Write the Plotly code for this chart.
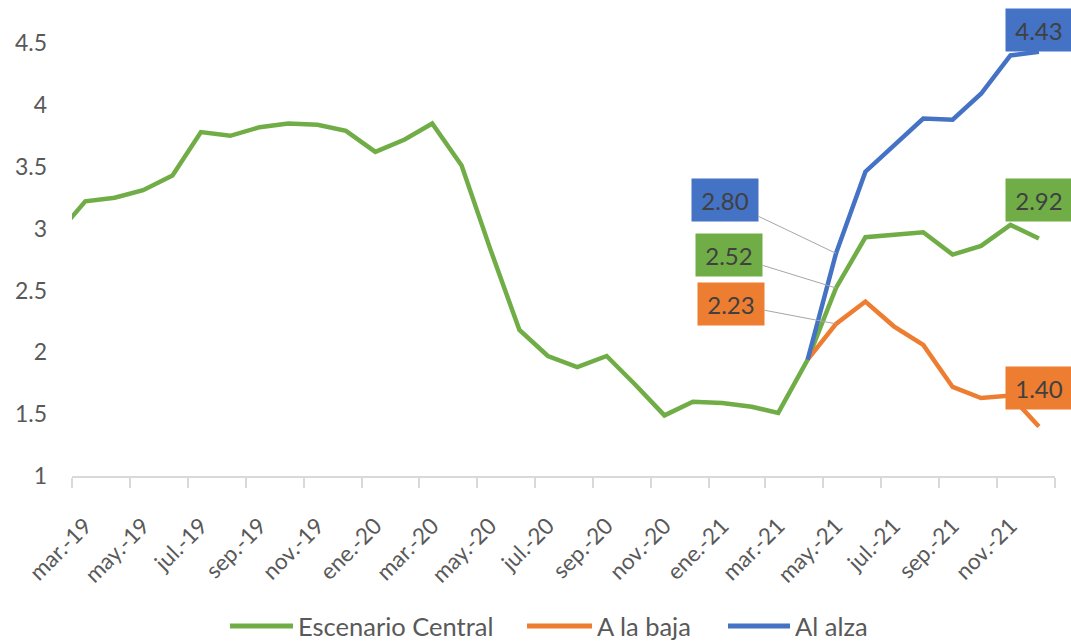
import plotly.graph_objects as go

# ---------------- data ----------------
months = ["2019-02", "2019-03", "2019-04", "2019-05", "2019-06", "2019-07", "2019-08",
          "2019-09", "2019-10", "2019-11", "2019-12", "2020-01", "2020-02", "2020-03",
          "2020-04", "2020-05", "2020-06", "2020-07", "2020-08", "2020-09", "2020-10",
          "2020-11", "2020-12", "2021-01", "2021-02", "2021-03", "2021-04", "2021-05",
          "2021-06", "2021-07", "2021-08", "2021-09", "2021-10", "2021-11", "2021-12"]

central = [2.97, 3.22, 3.25, 3.31, 3.43, 3.78, 3.75, 3.82, 3.85, 3.84, 3.79,
           3.62, 3.72, 3.85, 3.51, 2.84, 2.18, 1.97, 1.88, 1.97, 1.74, 1.49, 1.60,
           1.59, 1.56, 1.51, 1.94, 2.52, 2.93, 2.95, 2.97, 2.79, 2.86, 3.03, 2.92]

scen_months = ["2021-04", "2021-05", "2021-06", "2021-07", "2021-08", "2021-09",
               "2021-10", "2021-11", "2021-12"]
baja = [1.94, 2.23, 2.41, 2.21, 2.06, 1.72, 1.63, 1.65, 1.40]
alza = [1.94, 2.80, 3.46, 3.67, 3.89, 3.88, 4.09, 4.40, 4.43]

tick_months = ["2019-03", "2019-05", "2019-07", "2019-09", "2019-11", "2020-01",
               "2020-03", "2020-05", "2020-07", "2020-09", "2020-11", "2021-01",
               "2021-03", "2021-05", "2021-07", "2021-09", "2021-11", "2022-01"]
tick_labels = ["mar.-19", "may.-19", "jul.-19", "sep.-19", "nov.-19", "ene.-20",
               "mar.-20", "may.-20", "jul.-20", "sep.-20", "nov.-20", "ene.-21",
               "mar.-21", "may.-21", "jul.-21", "sep.-21", "nov.-21", ""]

names = ["Escenario Central", "A la baja", "Al alza"]
colors = ["#70AD47", "#ED7D31", "#4472C4"]

# ---------------- figure ----------------
W, H = 1071, 641
ML, MR, MT, MB = 72, 16, 0, 165
PW, PH = W - ML - MR, H - MT - MB

x_c = [m + "-15" for m in months]
x_s = [m + "-15" for m in scen_months]

fig = go.Figure()
fig.add_trace(go.Scatter(x=x_c, y=central, mode="lines", name=names[0],
                         line=dict(color=colors[0], width=4.5)))
fig.add_trace(go.Scatter(x=x_s, y=baja, mode="lines", name=names[1],
                         line=dict(color=colors[1], width=4.5)))
fig.add_trace(go.Scatter(x=x_s, y=alza, mode="lines", name=names[2],
                         line=dict(color=colors[2], width=4.5)))

label_font = dict(family="Lato", size=24, color="#404040")

# labels at may-21 with leader lines
may_x = "2021-05-15"
may_vals = [alza[scen_months.index("2021-05")],
            central[months.index("2021-05")],
            baja[scen_months.index("2021-05")]]
for val, col, ax, ay in zip(may_vals, [colors[2], colors[0], colors[1]],
                            [-111, -107, -105], [-53, -33, -20]):
    fig.add_annotation(x=may_x, y=val, text=f"{val:.2f}", showarrow=True,
                       arrowhead=0, arrowwidth=1, arrowcolor="#A6A6A6",
                       ax=ax, ay=ay, bgcolor=col, font=label_font,
                       width=64, height=40, borderpad=1)

# labels at the last point
for series, col, ys in [(central, colors[0], 16), (baja, colors[1], 17), (alza, colors[2], 0)]:
    fig.add_annotation(x=x_c[-1], y=series[-1], text=f"{series[-1]:.2f}",
                       showarrow=False, xanchor="center", yanchor="bottom", yshift=ys,
                       bgcolor=col, font=label_font, width=64, height=40, borderpad=1)

# legend drawn below the axis (line sample + label)
legend_px = [(230, 293), (527, 592), (728, 790)]
legend_y = 626
for (x0, x1), name, col in zip(legend_px, names, colors):
    yl = (MT + PH - legend_y) / PH
    fig.add_shape(type="line", xref="paper", yref="paper",
                  x0=(x0 - ML) / PW, x1=(x1 - ML) / PW, y0=yl, y1=yl,
                  line=dict(color=col, width=5))
    fig.add_annotation(xref="paper", yref="paper", x=(x1 + 4 - ML) / PW,
                       y=yl, text=name, showarrow=False,
                       xanchor="left", yanchor="middle", height=28, borderpad=0,
                       font=dict(family="Lato", size=25.5, color="#595959"))

fig.update_layout(
    width=W, height=H,
    margin=dict(l=ML, r=MR, t=MT, b=MB),
    plot_bgcolor="white", paper_bgcolor="white",
    font=dict(family="Lato", color="#595959"),
    showlegend=False,
)
fig.update_xaxes(
    type="date", range=["2019-03-01", "2022-01-01"],
    showgrid=False, zeroline=False,
    showline=True, linecolor="#D9D9D9", linewidth=1.5,
    tickmode="array", tickvals=[m + "-15" for m in tick_months], ticktext=tick_labels,
    tickangle=-45, tickfont=dict(size=22.5, color="#595959"),
    ticks="", ticklabelstandoff=26,
    minor=dict(tickmode="array", tickvals=[m + "-01" for m in tick_months],
               ticks="outside", ticklen=10, tickcolor="#D9D9D9", tickwidth=1.5),
)
fig.update_yaxes(
    range=[1, 4.848], tick0=1, dtick=0.5, showgrid=False, zeroline=False,
    showline=False, ticks="", tickfont=dict(size=23, color="#595959"),
    ticklabelstandoff=24,
)

fig.write_html("out.html", config={"displayModeBar": False},
               post_script="document.body.style.margin='0';")
